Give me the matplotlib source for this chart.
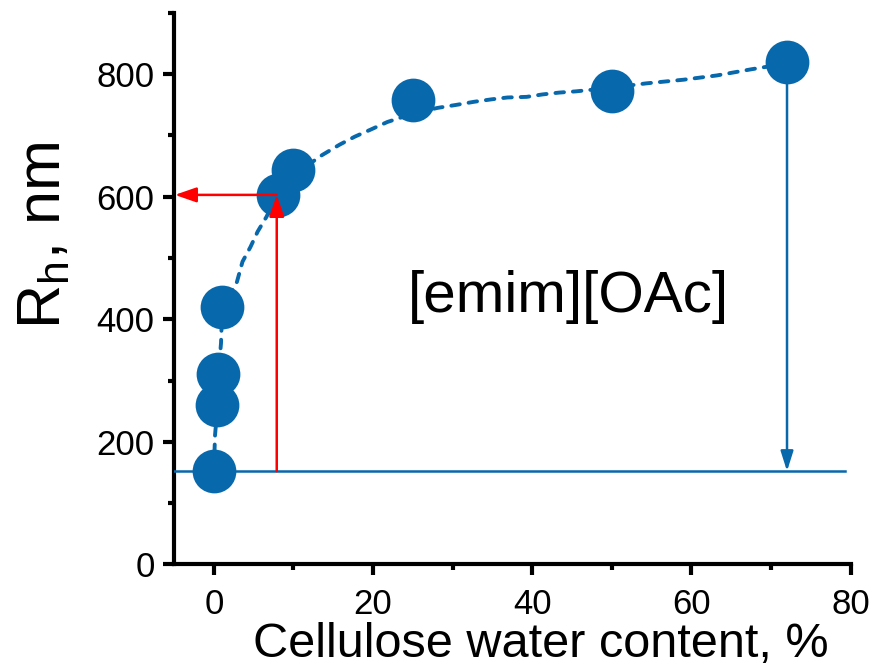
import numpy as np
import matplotlib
matplotlib.use('Agg')
import matplotlib.pyplot as plt
from matplotlib.ticker import MultipleLocator

plt.rcParams['font.family'] = ['Liberation Sans', 'DejaVu Sans']
plt.rcParams['mathtext.fontset'] = 'custom'
plt.rcParams['mathtext.rm'] = 'Liberation Sans'
plt.rcParams['mathtext.it'] = 'Liberation Sans:italic'

# measured points
water = [0, 0.45, 0.55, 1.0, 8, 10, 25, 50, 72]
rh = [153, 260, 310, 420, 603, 643, 758, 772, 820]

# dashed fit curve
fit_x = [0.0, 0.15, 0.45, 0.55, 0.9, 1.05, 2.9, 3.6, 4.6, 5.5, 6.6, 7.9, 9.9,
         12.4, 13.6, 15.8, 17.7, 19.6, 21.8, 25.1, 28.1, 30.5, 32.7, 34.9,
         36.9, 39.3, 41.3, 43.4, 45.5, 50.0, 54.3, 59.0, 63.2, 67.5, 69.4, 72.2]
fit_y = [153, 211, 257, 307, 361, 418, 461, 494, 518, 543, 567, 601, 640,
         657, 668, 685, 698, 709, 722, 736, 745, 750, 755, 759,
         762, 763, 767, 770, 772, 778, 785, 791, 798, 808, 812, 819]

baseline = 152
red_x = 7.9
red_y = 603

blue = '#0868ac'

fig = plt.figure(figsize=(8.88, 6.67), dpi=100)
ax = fig.add_axes([0.196, 0.154, 0.762, 0.8266])

ax.plot(fit_x, fit_y, color=blue, lw=2.8, linestyle=(0, (2.2, 2.3)),
        dash_capstyle='round', zorder=2)
ax.plot(water, rh, 'o', color=blue, ms=31.5, mec='none', zorder=3)

# blue baseline and arrow
ax.plot([-5, 79.3], [baseline, baseline], color=blue, lw=1.8, zorder=4)
ax.annotate('', xy=(water[-1], baseline), xytext=(water[-1], rh[-1]),
            arrowprops=dict(arrowstyle='-|>,head_length=1.2,head_width=0.38',
                            mutation_scale=10, color=blue, lw=1.8,
                            shrinkA=0, shrinkB=0), zorder=4)

# red arrows
ax.annotate('', xy=(red_x, red_y), xytext=(red_x, baseline),
            arrowprops=dict(arrowstyle='-|>,head_length=1.3,head_width=0.45',
                            mutation_scale=10, color='red', lw=1.8,
                            shrinkA=0, shrinkB=0), zorder=5)
ax.annotate('', xy=(-4.9, red_y), xytext=(red_x, red_y),
            arrowprops=dict(arrowstyle='-|>,head_length=1.3,head_width=0.45',
                            mutation_scale=10, color='red', lw=1.8,
                            shrinkA=0, shrinkB=0), zorder=5)

ax.text(44.5, 436, '[emim][OAc]', fontsize=42, ha='center', va='center')

ax.set_xlim(-5, 80)
ax.set_ylim(0, 900)
ax.xaxis.set_major_locator(MultipleLocator(20))
ax.xaxis.set_minor_locator(MultipleLocator(10))
ax.yaxis.set_major_locator(MultipleLocator(200))
ax.yaxis.set_minor_locator(MultipleLocator(100))

for side in ['top', 'right']:
    ax.spines[side].set_visible(False)
for side in ['left', 'bottom']:
    ax.spines[side].set_linewidth(3)
ax.tick_params(which='major', length=8, width=3, labelsize=25)
ax.tick_params(axis='x', which='major', pad=9)
ax.tick_params(axis='y', which='major', pad=6)
ax.tick_params(which='minor', length=4, width=3)

ax.set_xlabel('Cellulose water content, %', fontsize=35)
ax.xaxis.set_label_coords(0.542, -0.105)
fig.text(45 / 888, 1 - 236 / 667, r'R$_{\rm h}$, nm', fontsize=44,
         rotation=90, ha='center', va='center')

fig.savefig('out.png', dpi=100)
